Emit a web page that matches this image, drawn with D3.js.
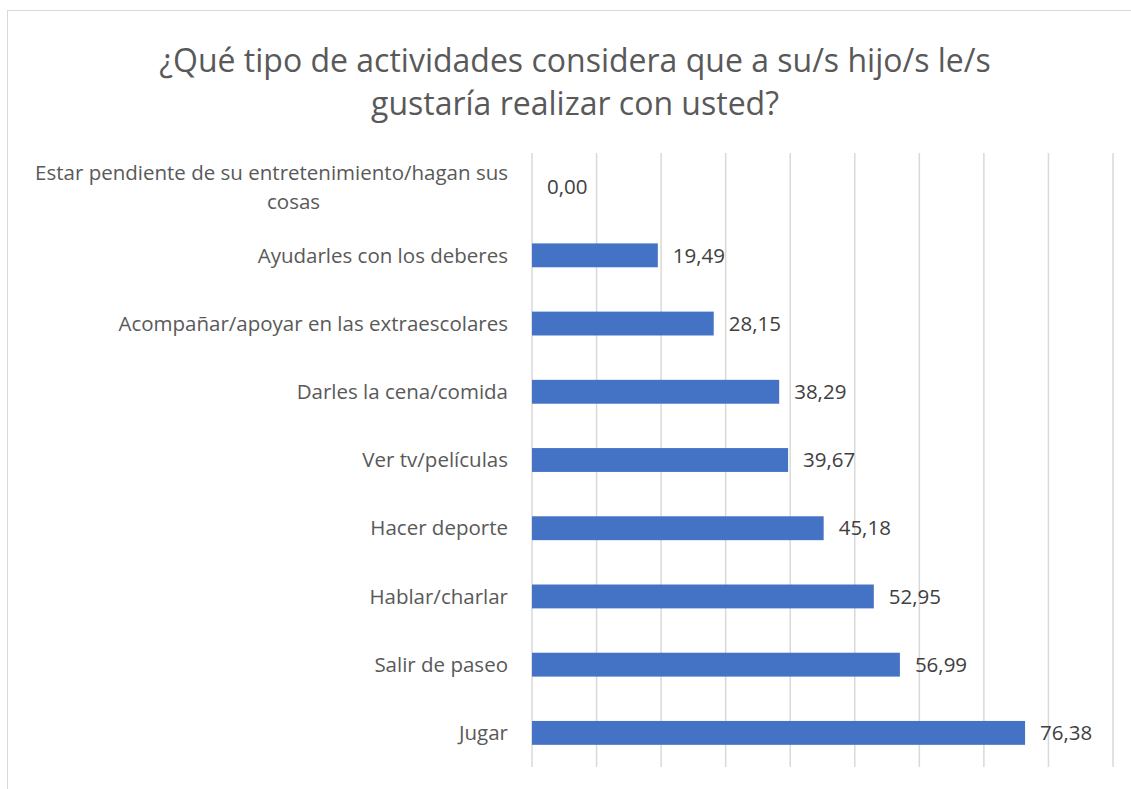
<!DOCTYPE html>
<html>
<head>
<meta charset="utf-8">
<script src="https://cdn.jsdelivr.net/npm/d3@7"></script>
<style>
  body { margin: 0; background: #fff; }
  text { font-family: "Open Sans", "Noto Sans", sans-serif; }
</style>
</head>
<body>
<div id="chart"></div>
<script>
// data, top to bottom as shown
const categories = [
  "Estar pendiente de su entretenimiento/hagan sus cosas",
  "Ayudarles con los deberes",
  "Acompañar/apoyar en las extraescolares",
  "Darles la cena/comida",
  "Ver tv/películas",
  "Hacer deporte",
  "Hablar/charlar",
  "Salir de paseo",
  "Jugar"
];
const values = [0.0, 19.49, 28.15, 38.29, 39.67, 45.18, 52.95, 56.99, 76.38];
const xTicks = [0, 10, 20, 30, 40, 50, 60, 70, 80, 90];
const titleLines = [
  "¿Qué tipo de actividades considera que a su/s hijo/s le/s",
  "gustaría realizar con usted?"
];

const W = 1131, H = 789;
const margin = { top: 153, right: 18, bottom: 22, left: 532 };
const width = 1113 - margin.left,
  height = 767 - margin.top;

const fmt = d3.formatLocale({ decimal: ",", thousands: ".", grouping: [3], currency: ["", "€"] }).format(".2f");

const root = d3
  .select("#chart")
  .append("svg")
  .attr("width", W)
  .attr("height", H);

// chart frame
root
  .append("rect")
  .attr("x", 7.5)
  .attr("y", 10.5)
  .attr("width", 1140)
  .attr("height", 800)
  .attr("fill", "#fff")
  .attr("stroke", "#d9d9d9")
  .attr("stroke-width", 1);

// title
root
  .append("g")
  .selectAll("text")
  .data(titleLines)
  .join("text")
  .attr("x", 575)
  .attr("y", (d, i) => 72 + i * 43)
  .attr("text-anchor", "middle")
  .attr("font-size", 32)
  .attr("fill", "#595959")
  .text((d) => d);

const svg = root.append("g").attr("transform", `translate(${margin.left},${margin.top})`);

const x = d3.scaleLinear().domain([0, 90]).range([0, width]);
const y = d3.scaleBand().domain(categories).range([0, height]).paddingInner(0.65).paddingOuter(0.325);

// gridlines
svg
  .append("g")
  .selectAll("line")
  .data(xTicks)
  .join("line")
  .attr("x1", (d) => x(d))
  .attr("x2", (d) => x(d))
  .attr("y1", 0)
  .attr("y2", height)
  .attr("stroke", "#d9d9d9")
  .attr("stroke-width", 1.5);

// bars
svg
  .append("g")
  .selectAll("rect")
  .data(values)
  .join("rect")
  .attr("x", x(0))
  .attr("y", (d, i) => y(categories[i]))
  .attr("width", (d) => x(d) - x(0))
  .attr("height", y.bandwidth())
  .attr("fill", "#4472c4");

// value labels
svg
  .append("g")
  .selectAll("text")
  .data(values)
  .join("text")
  .attr("x", (d) => x(d) + 15)
  .attr("y", (d, i) => y(categories[i]) + y.bandwidth() / 2)
  .attr("dy", "0.35em")
  .attr("font-size", 20.5)
  .attr("fill", "#404040")
  .text((d) => fmt(d));

// category labels, wrapped when too long
const maxLabel = 485;
const labels = svg
  .append("g")
  .selectAll("text")
  .data(categories)
  .join("text")
  .attr("font-size", 20.5)
  .attr("fill", "#595959")
  .attr("text-anchor", "end");

labels.each(function (d) {
  const t = d3.select(this);
  const words = d.split(" ");
  const lines = [];
  let line = [];
  const probe = t.append("tspan");
  words.forEach((w) => {
    probe.text(line.concat(w).join(" "));
    if (probe.node().getComputedTextLength() > maxLabel && line.length) {
      lines.push(line.join(" "));
      line = [w];
    } else {
      line.push(w);
    }
  });
  lines.push(line.join(" "));
  probe.remove();

  const cy = y(d) + y.bandwidth() / 2;
  const lh = 29;
  if (lines.length === 1) {
    t.append("tspan").attr("x", -24).attr("y", cy).attr("dy", "0.35em").text(lines[0]);
  } else {
    // first line right aligned, following lines centred under it
    const first = t.append("tspan").attr("x", -24).attr("y", cy - (lh * (lines.length - 1)) / 2).attr("dy", "0.35em").text(lines[0]);
    const w0 = first.node().getComputedTextLength();
    lines.slice(1).forEach((l, i) => {
      t.append("tspan")
        .attr("text-anchor", "middle")
        .attr("x", -24 - w0 / 2 + 22)
        .attr("y", cy - (lh * (lines.length - 1)) / 2 + lh * (i + 1))
        .attr("dy", "0.35em")
        .text(l);
    });
  }
});
</script>
</body>
</html>
